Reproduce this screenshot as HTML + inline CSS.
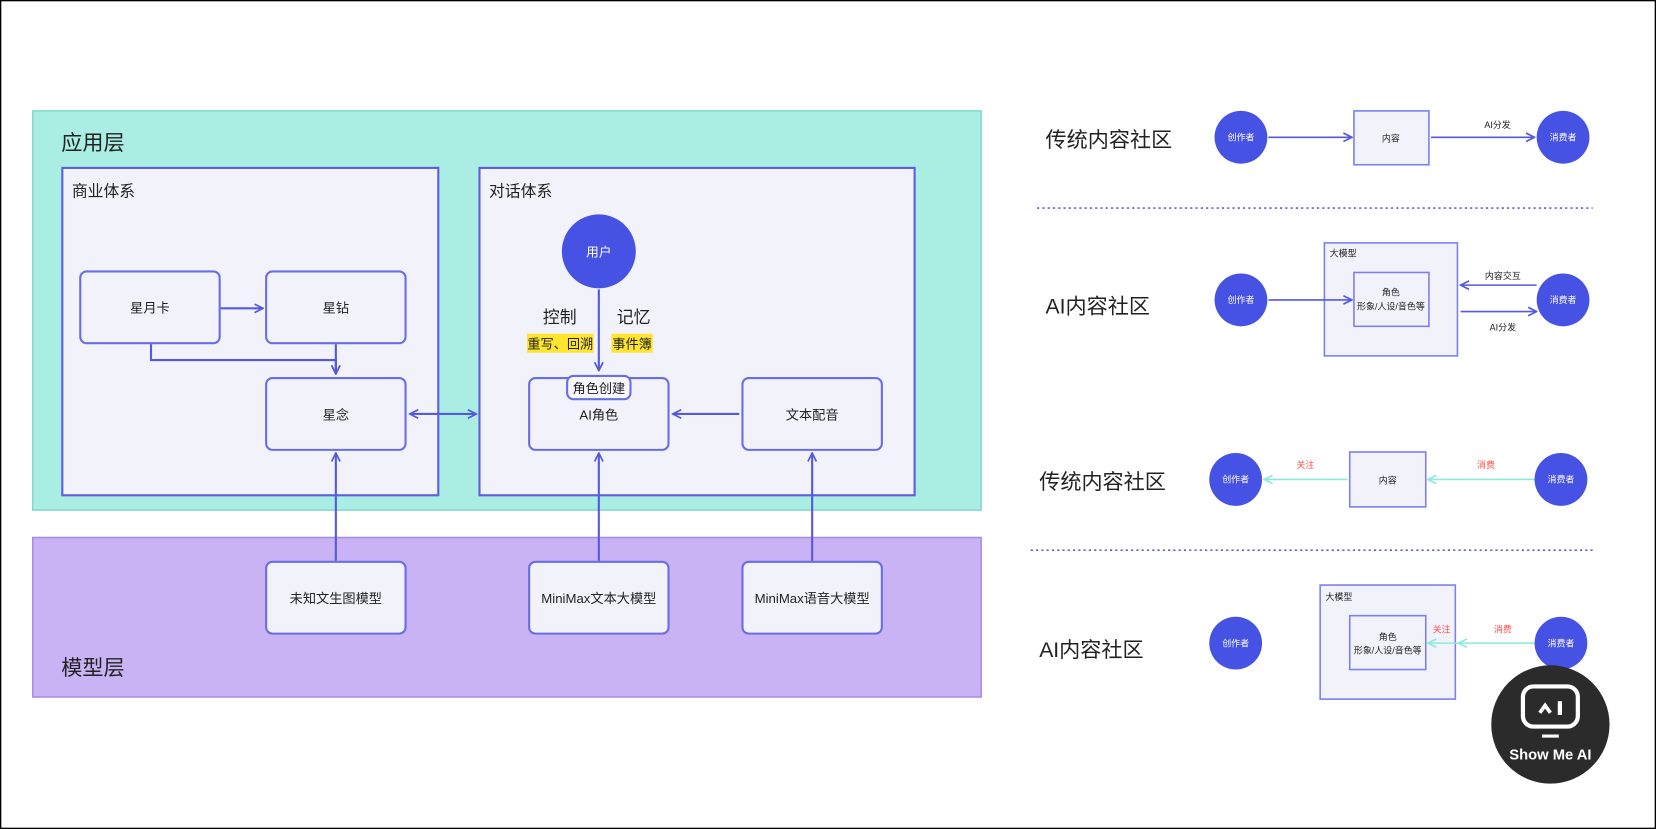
<!DOCTYPE html>
<html><head><meta charset="utf-8"><style>
html,body{margin:0;padding:0;background:#fff;}
svg{display:block;}
text{font-family:"Liberation Sans","Noto Sans CJK SC",sans-serif;}
</style></head><body>
<svg width="1656" height="829" viewBox="0 0 1568 785" preserveAspectRatio="none" xmlns="http://www.w3.org/2000/svg">
<defs>
<marker id="a" viewBox="0 0 10 10" refX="9" refY="5" markerWidth="10" markerHeight="10" orient="auto-start-reverse" markerUnits="userSpaceOnUse"><path d="M1,1 L9,5 L1,9" fill="none" stroke="#5459e0" stroke-width="1.6"/></marker>
<marker id="c" viewBox="0 0 10 10" refX="9" refY="5" markerWidth="10" markerHeight="10" orient="auto" markerUnits="userSpaceOnUse"><path d="M1,1 L9,5 L1,9" fill="none" stroke="#8ee8dc" stroke-width="1.6"/></marker>
</defs>
<rect x="0.5" y="0.5" width="1567" height="784" fill="#fff" stroke="#000" stroke-width="1.5"/>
<rect x="31" y="105" width="898" height="378" fill="#a9ede3" stroke="#86d9cc" stroke-width="1.5"/>
<text x="58" y="142" font-size="20" fill="#222">应用层</text>
<rect x="31" y="509" width="898" height="151" fill="#c9b3f5" stroke="#a98ce6" stroke-width="1.5"/>
<text x="58" y="639" font-size="20" fill="#222">模型层</text>
<rect x="59" y="159" width="356" height="310" fill="#f2f2fb" stroke="#5b5ee0" stroke-width="2"/>
<text x="68" y="186" font-size="15" fill="#222">商业体系</text>
<rect x="454" y="159" width="412" height="310" fill="#f2f2fb" stroke="#5b5ee0" stroke-width="2"/>
<text x="463" y="186" font-size="15" fill="#222">对话体系</text>
<g fill="#f2f2fb" stroke="#6a6ee6" stroke-width="2">
<rect x="76" y="257" width="132" height="68" rx="6"/>
<rect x="252" y="257" width="132" height="68" rx="6"/>
<rect x="252" y="358" width="132" height="68" rx="6"/>
<rect x="501" y="358" width="132" height="68" rx="6"/>
<rect x="703" y="358" width="132" height="68" rx="6"/>
<rect x="252" y="532" width="132" height="68" rx="6"/>
<rect x="501" y="532" width="132" height="68" rx="6"/>
<rect x="703" y="532" width="132" height="68" rx="6"/>
</g>
<g font-size="12.5" fill="#222" text-anchor="middle">
<text x="142" y="296">星月卡</text>
<text x="318" y="296">星钻</text>
<text x="318" y="397">星念</text>
<text x="567" y="397">AI角色</text>
<text x="769" y="397">文本配音</text>
<text x="318" y="571">未知文生图模型</text>
<text x="567" y="571">MiniMax文本大模型</text>
<text x="769" y="571">MiniMax语音大模型</text>
</g>
<circle cx="567" cy="238" r="35" fill="#4652e4"/>
<text x="567" y="243" font-size="12" fill="#fff" text-anchor="middle">用户</text>
<text x="530" y="306" font-size="16" fill="#222" text-anchor="middle">控制</text>
<text x="600" y="306" font-size="16" fill="#222" text-anchor="middle">记忆</text>
<rect x="499" y="316" width="63" height="18" fill="#ffe52e"/>
<rect x="579" y="316" width="39" height="18" fill="#ffe52e"/>
<text x="530.5" y="330" font-size="12.5" fill="#222" text-anchor="middle">重写、回溯</text>
<text x="598.5" y="330" font-size="12.5" fill="#222" text-anchor="middle">事件簿</text>
<g stroke="#5459e0" stroke-width="2" fill="none">
<line x1="567" y1="274" x2="567" y2="351" marker-end="url(#a)"/>
<line x1="209" y1="292" x2="249" y2="292" marker-end="url(#a)"/>
<path d="M143,326 V341 H318 V354" marker-end="url(#a)"/>
<line x1="318" y1="326" x2="318" y2="354" marker-end="url(#a)"/>
<line x1="388" y1="392" x2="451" y2="392" marker-start="url(#a)" marker-end="url(#a)"/>
<line x1="700" y1="392" x2="637" y2="392" marker-end="url(#a)"/>
<line x1="318" y1="531" x2="318" y2="429" marker-end="url(#a)"/>
<line x1="567" y1="531" x2="567" y2="429" marker-end="url(#a)"/>
<line x1="769" y1="531" x2="769" y2="429" marker-end="url(#a)"/>
</g>
<rect x="537" y="356" width="60" height="22" rx="6" fill="#f7f7fd" stroke="#6a6ee6" stroke-width="2"/>
<text x="567" y="372" font-size="12.5" fill="#222" text-anchor="middle">角色创建</text>

<g font-size="20" fill="#222">
<text x="990" y="139">传统内容社区</text>
<text x="990" y="297">AI内容社区</text>
<text x="984" y="463">传统内容社区</text>
<text x="984" y="622">AI内容社区</text>
</g>
<g stroke="#5b5ee0" stroke-width="1.5" stroke-dasharray="2 3">
<line x1="982" y1="197" x2="1508" y2="197"/>
<line x1="976" y1="521" x2="1508" y2="521"/>
</g>
<g fill="#f2f2fb" stroke="#7b7ff0" stroke-width="1.5">
<rect x="1282" y="105" width="71" height="51"/>
<rect x="1254" y="230" width="126" height="107"/>
<rect x="1282" y="258" width="71" height="51"/>
<rect x="1278" y="428" width="72" height="52"/>
<rect x="1250" y="554" width="128" height="108"/>
<rect x="1278" y="583" width="72" height="51"/>
</g>
<g fill="#4652e4">
<circle cx="1175" cy="130" r="25"/><circle cx="1480" cy="130" r="25"/>
<circle cx="1175" cy="284" r="25"/><circle cx="1480" cy="284" r="25"/>
<circle cx="1170" cy="454" r="25"/><circle cx="1478" cy="454" r="25"/>
<circle cx="1170" cy="609" r="25"/><circle cx="1478" cy="609" r="25"/>
</g>
<g font-size="8.5" fill="#fff" text-anchor="middle">
<text x="1175" y="133">创作者</text><text x="1480" y="133">消费者</text>
<text x="1175" y="287">创作者</text><text x="1480" y="287">消费者</text>
<text x="1170" y="457">创作者</text><text x="1478" y="457">消费者</text>
<text x="1170" y="612">创作者</text><text x="1478" y="612">消费者</text>
</g>
<g font-size="8.5" fill="#222" text-anchor="middle">
<text x="1317" y="134">内容</text>
<text x="1314" y="458">内容</text>
<text x="1317" y="280">角色</text>
<text x="1317" y="293">形象/人设/音色等</text>
<text x="1314" y="606">角色</text>
<text x="1314" y="619">形象/人设/音色等</text>
<text x="1418" y="121">AI分发</text>
<text x="1423" y="264">内容交互</text>
<text x="1423" y="313">AI分发</text>
</g>
<g font-size="8.5" fill="#222">
<text x="1259" y="243">大模型</text>
<text x="1255" y="568">大模型</text>
</g>
<g font-size="8.5" fill="#ff4d4d" text-anchor="middle">
<text x="1236" y="443">关注</text><text x="1407" y="443">消费</text>
<text x="1365" y="599">关注</text><text x="1423" y="599">消费</text>
</g>
<g stroke="#5459e0" stroke-width="1.5" fill="none">
<line x1="1201" y1="130" x2="1280" y2="130" marker-end="url(#a)"/>
<line x1="1355" y1="130" x2="1453" y2="130" marker-end="url(#a)"/>
<line x1="1201" y1="284" x2="1280" y2="284" marker-end="url(#a)"/>
<line x1="1455" y1="270" x2="1383" y2="270" marker-end="url(#a)"/>
<line x1="1383" y1="295" x2="1455" y2="295" marker-end="url(#a)"/>
</g>
<g stroke="#8ee8dc" stroke-width="1.5" fill="none">
<line x1="1276" y1="454" x2="1197" y2="454" marker-end="url(#c)"/>
<line x1="1453" y1="454" x2="1352" y2="454" marker-end="url(#c)"/>
<line x1="1453" y1="609" x2="1381" y2="609" marker-end="url(#c)"/>
<line x1="1381" y1="609" x2="1352" y2="609" marker-end="url(#c)"/>
</g>
<circle cx="1468" cy="686" r="56" fill="#2b2b2b"/>
<rect x="1442" y="650" width="52" height="38" rx="10" fill="none" stroke="#fff" stroke-width="4"/>
<path d="M1458,675 L1463,668 L1468,675" fill="none" stroke="#fff" stroke-width="3.5"/>
<line x1="1477" y1="664" x2="1477" y2="677" stroke="#fff" stroke-width="4"/>
<line x1="1460" y1="697" x2="1476" y2="697" stroke="#fff" stroke-width="3"/>
<text x="1468" y="719" font-size="14" font-weight="bold" fill="#fff" text-anchor="middle">Show Me AI</text>
</svg>
</body></html>
